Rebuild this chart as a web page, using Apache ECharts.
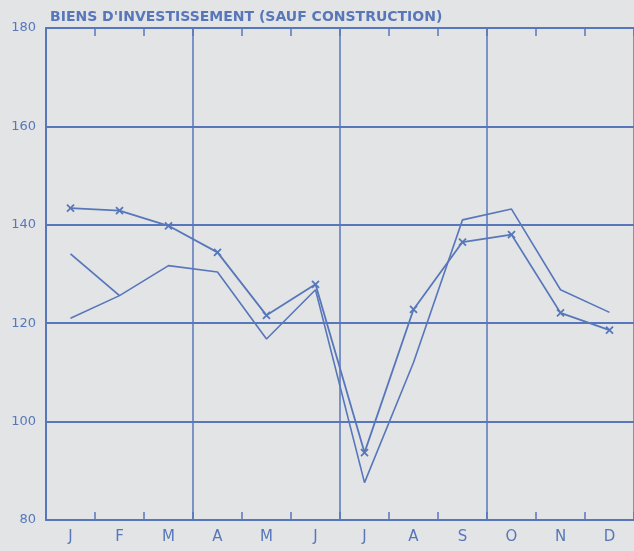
<!DOCTYPE html>
<html>
<head>
<meta charset="utf-8">
<script src="https://cdn.jsdelivr.net/npm/echarts@6/dist/echarts.min.js"></script>
<style>
html,body{margin:0;padding:0;background:#e2e4e5;}
#c{width:634px;height:551px;}
</style>
</head>
<body>
<div id="c"></div>
<script>
const title = "BIENS D'INVESTISSEMENT (SAUF CONSTRUCTION)";
const months = ['J','F','M','A','M','J','J','A','S','O','N','D'];
const yTicks = [80, 100, 120, 140, 160, 180];
const seriesMarked = [143.4, 142.9, 139.8, 134.4, 121.6, 127.9, 93.7, 122.8, 136.5, 138.0, 122.1, 118.6];
const seriesPlain = [121.0, 125.6, 131.7, 130.4, 116.8, 126.8, 87.6, 112.0, 141.0, 143.2, 126.8, 122.2];
const seriesPrevEnd = [134.1, 125.6, null, null, null, null, null, null, null, null, null, null];

const C = '#5877bb';
const chart = echarts.init(document.getElementById('c'), null, {renderer: 'canvas'});
chart.setOption({
  backgroundColor: '#e2e4e5',
  animation: false,
  title: {
    text: title, left: 45, top: 5,
    textStyle: {color: C, fontFamily: 'DejaVu Sans', fontWeight: 'bold', fontSize: 14}
  },
  grid: {left: 46, right: 0, top: 28, bottom: 31},
  xAxis: [{
    type: 'category', data: months, boundaryGap: true, position: 'bottom',
    axisLine: {lineStyle: {color: C, width: 2}},
    axisTick: {show: true, inside: true, length: 8, interval: 0, lineStyle: {color: C, width: 1.5}},
    axisLabel: {color: C, fontFamily: 'DejaVu Sans', fontSize: 15, margin: 10, interval: 0},
    splitLine: {show: false}
  }, {
    type: 'category', data: months, boundaryGap: true, position: 'top',
    axisLine: {show: true, lineStyle: {color: C, width: 2}},
    axisTick: {show: true, inside: true, length: 8, interval: 0, lineStyle: {color: C, width: 1.5}},
    axisLabel: {show: false},
    splitLine: {show: false}
  }, {
    type: 'value', min: 0, max: 12, interval: 3, position: 'bottom', offset: 0,
    axisLine: {show: false}, axisTick: {show: false}, axisLabel: {show: false},
    splitLine: {show: true, lineStyle: {color: C, width: 1.5}}
  }],
  yAxis: {
    type: 'value', min: yTicks[0], max: yTicks[yTicks.length - 1], interval: 20,
    axisLine: {show: true, lineStyle: {color: C, width: 2}},
    axisTick: {show: false},
    axisLabel: {color: C, fontFamily: 'DejaVu Sans', fontSize: 13, margin: 10},
    splitLine: {show: true, lineStyle: {color: C, width: 1.8}}
  },
  series: [{
    type: 'line', data: seriesMarked, xAxisIndex: 0,
    symbol: 'path://M0,0L10,10M10,0L0,10', symbolSize: 7,
    itemStyle: {color: C, borderColor: C, borderWidth: 1.8},
    lineStyle: {color: C, width: 1.8}
  }, {
    type: 'line', data: seriesPlain, xAxisIndex: 0, symbol: 'none',
    lineStyle: {color: C, width: 1.6}
  }, {
    type: 'line', data: seriesPrevEnd, xAxisIndex: 0, symbol: 'none',
    lineStyle: {color: C, width: 1.8}
  }]
});
</script>
</body>
</html>
